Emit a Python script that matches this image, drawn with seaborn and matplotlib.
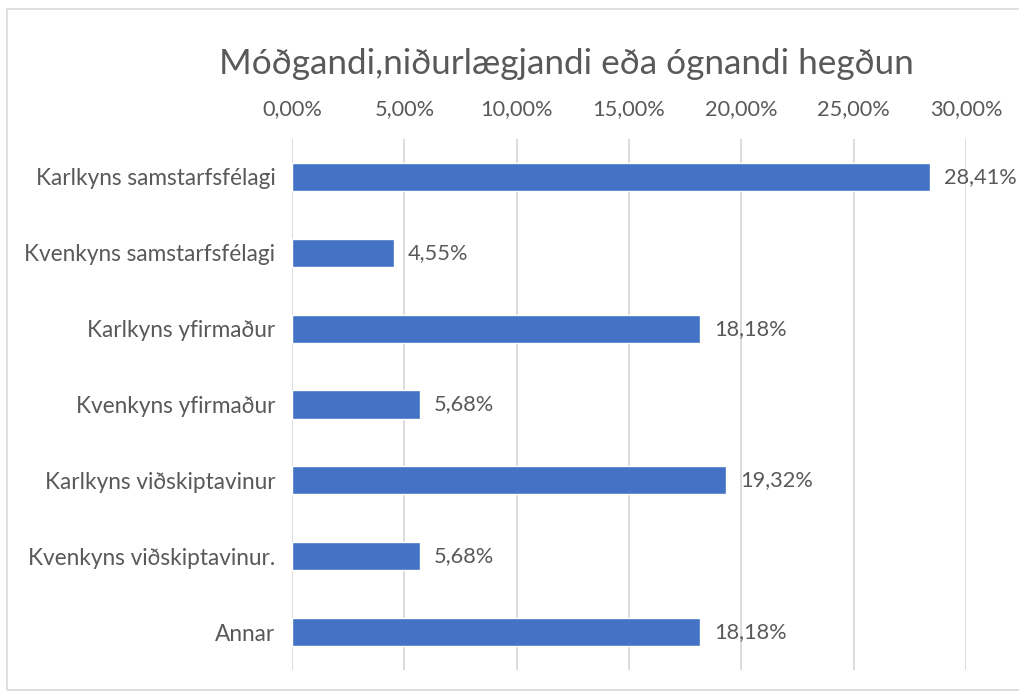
import matplotlib
matplotlib.use("Agg")
import matplotlib.pyplot as plt
import seaborn as sns
import pandas as pd
from matplotlib.patches import Rectangle
from matplotlib.ticker import FuncFormatter

categories = [
    "Karlkyns samstarfsfélagi",
    "Kvenkyns samstarfsfélagi",
    "Karlkyns yfirmaður",
    "Kvenkyns yfirmaður",
    "Karlkyns viðskiptavinur",
    "Kvenkyns viðskiptavinur.",
    "Annar",
]
values = [28.41, 4.55, 18.18, 5.68, 19.32, 5.68, 18.18]
ticks = [0, 5, 10, 15, 20, 25, 30]
title = "Móðgandi,niðurlægjandi eða ógnandi hegðun"

sns.set_theme(style="white")
plt.rcParams["font.family"] = ["Lato", "DejaVu Sans"]

TEXT = "#595959"
BAR = "#4472C4"
GRID = "#D9D9D9"


def pct(v):
    return f"{v:.2f}%".replace(".", ",")


df = pd.DataFrame({"cat": categories, "val": values})

fig = plt.figure(figsize=(10.2, 6.93), dpi=100)
ax = fig.add_axes([0.2863, 0.0332, 0.6608, 0.7662])

sns.barplot(data=df, x="val", y="cat", color=BAR, width=0.37,
            saturation=1, ax=ax, orient="h")

ax.set_xlim(0, 30)
ax.set_ylim(6.5, -0.5)
ax.set_xticks(ticks)
ax.xaxis.set_major_formatter(FuncFormatter(lambda v, p: pct(v)))
ax.xaxis.tick_top()
ax.tick_params(axis="x", length=0, labelsize=15.7, colors=TEXT, pad=14)
ax.tick_params(axis="y", length=0, labelsize=16.3, colors=TEXT, pad=12)
ax.set_xlabel("")
ax.set_ylabel("")
ax.grid(axis="x", color=GRID, linewidth=1.3)
ax.set_axisbelow(True)
for s in ax.spines.values():
    s.set_visible(False)

for i, v in enumerate(values):
    ax.annotate(pct(v), xy=(v, i), xytext=(10, 0), textcoords="offset points",
                va="center", ha="left", fontsize=15.7, color=TEXT)

fig.text(0.555, 0.907, title, ha="center", va="center", fontsize=25.3, color=TEXT)

fig.patches.append(Rectangle((7 / 1020, 3 / 693), 1.2, 681 / 693, transform=fig.transFigure,
                             fill=False, edgecolor=GRID, linewidth=1.2))

fig.savefig("out.png", dpi=100, facecolor="white")
